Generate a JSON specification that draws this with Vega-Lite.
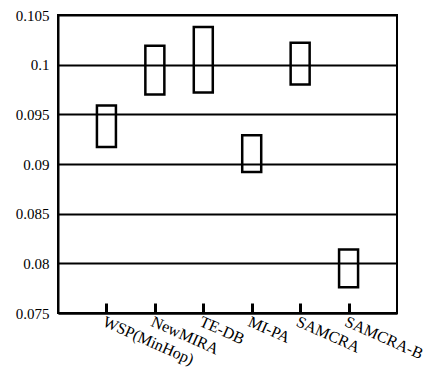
{
  "$schema": "https://vega.github.io/schema/vega-lite/v6.json",
  "width": 339,
  "height": 298,
  "autosize": {"type": "none"},
  "padding": {"left": 58, "top": 15, "right": 41, "bottom": 68},
  "background": "white",
  "config": {
    "view": {"stroke": "black", "strokeWidth": 2},
    "axis": {"domainColor": "black", "domainWidth": 2, "labelColor": "black", "labelFont": "Liberation Serif"}
  },
  "data": {
    "values": [
      {"method": "WSP(MinHop)", "low": 0.0917, "high": 0.0959},
      {"method": "NewMIRA", "low": 0.0970, "high": 0.1019},
      {"method": "TE-DB", "low": 0.0972, "high": 0.1038},
      {"method": "MI-PA", "low": 0.0892, "high": 0.0929},
      {"method": "SAMCRA", "low": 0.0980, "high": 0.1022},
      {"method": "SAMCRA-B", "low": 0.0776, "high": 0.0814}
    ]
  },
  "mark": {"type": "bar", "filled": false, "stroke": "black", "strokeWidth": 2.5, "size": 19},
  "encoding": {
    "x": {
      "field": "method",
      "type": "nominal",
      "sort": null,
      "scale": {"type": "point", "padding": 1},
      "axis": {
        "title": null,
        "grid": false,
        "ticks": true,
        "tickSize": -10,
        "tickWidth": 3,
        "tickColor": "black",
        "labelAngle": 24,
        "labelAlign": "left",
        "labelBaseline": "top",
        "labelPadding": 10,
        "labelFontSize": 16
      }
    },
    "y": {
      "field": "low",
      "type": "quantitative",
      "scale": {"domain": [0.075, 0.105], "nice": false, "zero": false},
      "axis": {
        "title": null,
        "values": [0.075, 0.08, 0.085, 0.09, 0.095, 0.1, 0.105],
        "labelExpr": "format(datum.value, '.4~g')",
        "ticks": false,
        "grid": true,
        "gridColor": "black",
        "gridWidth": 2,
        "gridOpacity": 1,
        "labelFontSize": 15,
        "labelPadding": 9
      }
    },
    "y2": {"field": "high"}
  }
}
